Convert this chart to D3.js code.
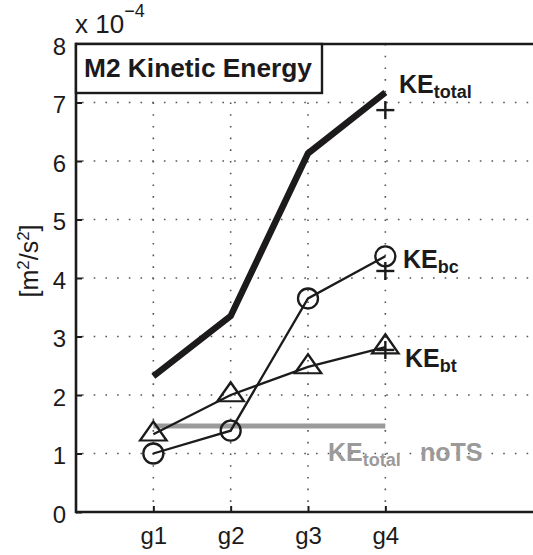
<!DOCTYPE html>
<html>
<head>
<meta charset="utf-8">
<script src="https://cdn.jsdelivr.net/npm/d3@7"></script>
<style>
  html, body { margin: 0; padding: 0; background: #fff; }
  svg { display: block; font-family: "Liberation Sans", Arial, Helvetica, sans-serif; }
</style>
</head>
<body>
<svg id="chart" width="533" height="555"></svg>
<script>
// Experiments along the x axis and their positions
const groups = ["g1", "g2", "g3", "g4"];
const groupPos = [1, 2, 3, 4];

// Kinetic energy, units of 1e-4 m^2/s^2
const keTotal = [2.32, 3.35, 6.13, 7.17];
const keBc = [1.0, 1.39, 3.65, 4.37];
const keBt = [1.33, 2.0, 2.48, 2.82];
const keTotalNoTS = [1.47, 1.47, 1.47, 1.47];

// Single-point comparison values shown as "+" at g4
const plusPos = [4, 4, 4];
const plusVals = [6.87, 4.12, 2.77];

// Axis ticks
const yTicks = [0, 1, 2, 3, 4, 5, 6, 7, 8];

const ink = "#1c1a1b";
const grey = "#9a9a9a";

const svg = d3.select("#chart");

const x = d3.scaleLinear().domain([0, 6]).range([76, 540]);
const y = d3.scaleLinear().domain([0, 8]).range([512, 44]);

// Dotted grid
const grid = svg.append("g").attr("stroke", "#555").attr("stroke-width", 1.6)
  .attr("stroke-dasharray", "1.6,10.1").attr("fill", "none");
grid.selectAll("line.h").data(yTicks.filter(t => t > 0 && t < 8)).join("line")
  .attr("x1", x(0) + 6).attr("x2", x(6))
  .attr("y1", d => y(d)).attr("y2", d => y(d));
grid.selectAll("line.v").data(groupPos).join("line")
  .attr("x1", d => x(d)).attr("x2", d => x(d))
  .attr("y1", y(8)).attr("y2", y(0));

// Axes: inward ticks, box top and left/bottom lines
const yAxis = d3.axisLeft(y).tickValues(yTicks).tickSizeInner(-6).tickSizeOuter(0).tickPadding(10);
const gy = svg.append("g").attr("transform", `translate(${x(0)},0)`).call(yAxis);
gy.select(".domain").remove();
gy.selectAll(".tick line").attr("stroke", ink).attr("stroke-width", 2);
gy.selectAll(".tick text").attr("fill", ink).attr("font-size", 24).attr("dy", "0.42em");

const xAxis = d3.axisBottom(x).tickValues(groupPos).tickFormat((d, i) => groups[i])
  .tickSizeInner(-6).tickSizeOuter(0).tickPadding(32);
const gx = svg.append("g").attr("transform", `translate(0,${y(0)})`).call(xAxis);
gx.select(".domain").remove();
gx.selectAll(".tick line").attr("stroke", ink).attr("stroke-width", 2);
gx.selectAll(".tick text").attr("fill", ink).attr("font-size", 24).attr("dy", "0");

const frame = svg.append("g").attr("stroke", ink).attr("stroke-width", 2.6);
frame.append("line").attr("x1", x(0)).attr("x2", x(6)).attr("y1", y(0)).attr("y2", y(0));
frame.append("line").attr("x1", x(0)).attr("x2", x(6)).attr("y1", y(8)).attr("y2", y(8));
frame.append("line").attr("x1", x(0)).attr("x2", x(0)).attr("y1", y(8) - 1.3).attr("y2", y(0) + 1.3);

// Exponent label
const ex = svg.append("text").attr("x", 75).attr("y", 33).attr("fill", ink).attr("font-size", 26);
ex.append("tspan").text("x 10");
ex.append("tspan").attr("font-size", 18).attr("dy", -16).text("\u22124");

// Y label
const yl = svg.append("text").attr("transform", "translate(38,261) rotate(-90)")
  .attr("text-anchor", "middle").attr("fill", ink).attr("font-size", 25);
yl.append("tspan").text("[m");
yl.append("tspan").attr("font-size", 17).attr("dy", -9).text("2");
yl.append("tspan").attr("dy", 9).text("/s");
yl.append("tspan").attr("font-size", 17).attr("dy", -9).text("2");
yl.append("tspan").attr("dy", 9).text("]");

const line = d3.line().x((d, i) => x(groupPos[i])).y(d => y(d));

// No-TS total (grey)
svg.append("path").datum(keTotalNoTS).attr("d", line).attr("fill", "none")
  .attr("stroke", grey).attr("stroke-width", 5);

// Total KE (thick)
svg.append("path").datum(keTotal).attr("d", line).attr("fill", "none")
  .attr("stroke", ink).attr("stroke-width", 6.5);

// Baroclinic and barotropic
svg.append("path").datum(keBc).attr("d", line).attr("fill", "none")
  .attr("stroke", ink).attr("stroke-width", 2.3);
svg.append("path").datum(keBt).attr("d", line).attr("fill", "none")
  .attr("stroke", ink).attr("stroke-width", 2.3);

// Circle markers
svg.append("g").selectAll("circle").data(keBc).join("circle")
  .attr("cx", (d, i) => x(groupPos[i])).attr("cy", d => y(d)).attr("r", 10)
  .attr("fill", "none").attr("stroke", ink).attr("stroke-width", 2.3);

// Triangle markers
const tri = d3.symbol().type(d3.symbolTriangle).size(230);
svg.append("g").selectAll("path").data(keBt).join("path")
  .attr("transform", (d, i) => `translate(${x(groupPos[i])},${y(d)}) scale(1.15,0.95)`)
  .attr("d", tri()).attr("fill", "none").attr("stroke", ink).attr("stroke-width", 2.2);

// Plus markers
const plus = svg.append("g").attr("stroke", ink).attr("stroke-width", 2.4);
plusVals.forEach((v, i) => {
  const cx = x(plusPos[i]), cy = y(v);
  plus.append("line").attr("x1", cx - 9).attr("x2", cx + 9).attr("y1", cy).attr("y2", cy);
  plus.append("line").attr("x1", cx).attr("x2", cx).attr("y1", cy - 9).attr("y2", cy + 9);
});

// Series labels
function subLabel(px, py, main, sub, color) {
  const t = svg.append("text").attr("x", px).attr("y", py).attr("fill", color)
    .attr("font-weight", "bold").attr("font-size", 25);
  t.append("tspan").text(main);
  t.append("tspan").attr("font-size", 18).attr("dy", 5).text(sub);
  return t;
}
subLabel(399, 93, "KE", "total", ink);
subLabel(403, 268, "KE", "bc", ink);
subLabel(405, 367, "KE", "bt", ink);
subLabel(328, 461, "KE", "total", grey);
svg.append("text").attr("x", 420).attr("y", 461).attr("fill", grey)
  .attr("font-weight", "bold").attr("font-size", 25).text("noTS");

// Title box
svg.append("rect").attr("x", x(0)).attr("y", y(8)).attr("width", 246).attr("height", 49)
  .attr("fill", "#fff").attr("stroke", ink).attr("stroke-width", 2.4);
svg.append("text").attr("x", 84).attr("y", 77).attr("fill", ink)
  .attr("font-weight", "bold").attr("font-size", 26.3).text("M2 Kinetic Energy");
</script>
</body>
</html>
